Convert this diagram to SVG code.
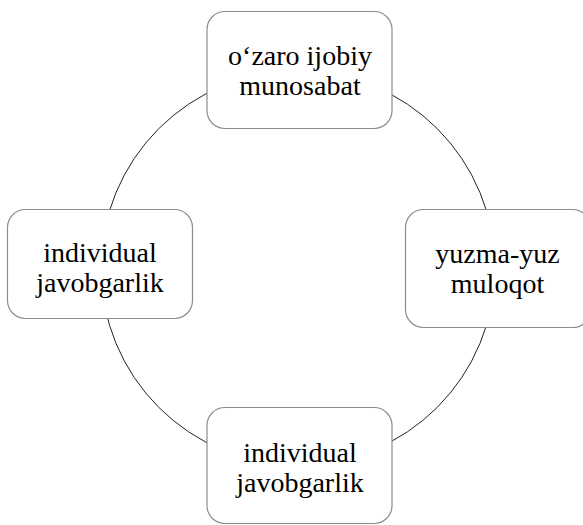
<svg xmlns="http://www.w3.org/2000/svg" width="583" height="525" viewBox="0 0 583 525">
<style>
.box{fill:#fff;stroke:#8c8c8c;stroke-width:1.2}
.lbl{font-family:'Liberation Serif','Times New Roman',serif;font-size:28px;fill:#000;text-anchor:middle}
.conn{fill:none;stroke:#222;stroke-width:1}
</style>
<rect width="583" height="525" fill="#fff"/>
<g id="connectors">
<circle class="conn" cx="298" cy="268" r="197"/>
</g>
<g id="node-top">
<rect class="box" x="207" y="11.5" width="185" height="117" rx="18"/>
<text class="lbl" x="300" y="65">o‘zaro ijobiy</text>
<text class="lbl" x="300" y="95">munosabat</text>
</g>
<g id="node-left">
<rect class="box" x="7.5" y="209.5" width="185" height="109" rx="18"/>
<text class="lbl" x="100" y="262">individual</text>
<text class="lbl" x="100" y="292">javobgarlik</text>
</g>
<g id="node-right">
<rect class="box" x="405.5" y="209.5" width="185" height="118" rx="18"/>
<text class="lbl" x="497.5" y="263">yuzma-yuz</text>
<text class="lbl" x="497.5" y="293">muloqot</text>
</g>
<g id="node-bottom">
<rect class="box" x="207" y="407.5" width="185" height="116" rx="18"/>
<text class="lbl" x="300" y="462">individual</text>
<text class="lbl" x="300" y="492">javobgarlik</text>
</g>
</svg>
